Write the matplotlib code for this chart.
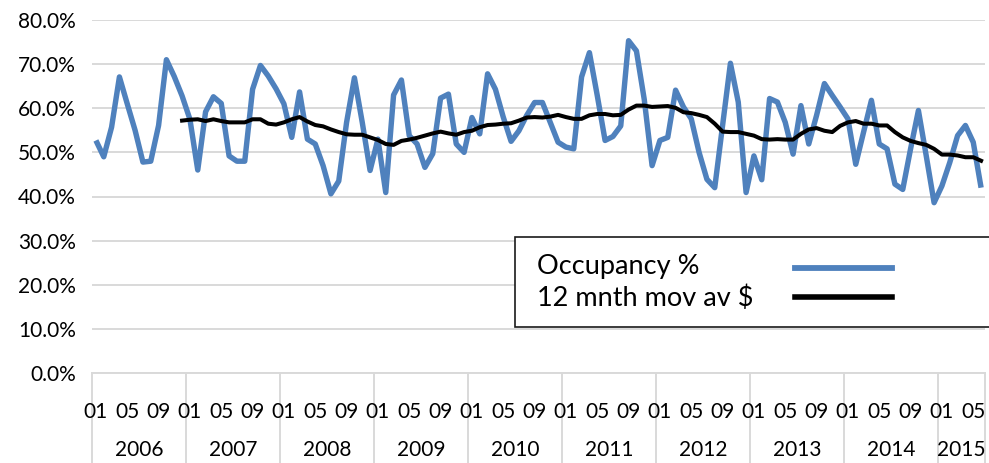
import numpy as np
import matplotlib
matplotlib.use('Agg')
import matplotlib.pyplot as plt
from matplotlib.lines import Line2D
from matplotlib.patches import Rectangle
from matplotlib.ticker import FuncFormatter
import matplotlib.transforms as mtransforms

plt.rcParams['font.family'] = ['Lato', 'DejaVu Sans']

years = ['2006', '2007', '2008', '2009', '2010', '2011', '2012', '2013', '2014', '2015']
months_in_year = [12, 12, 12, 12, 12, 12, 12, 12, 12, 6]
month_tick_labels = ['01', '05', '09']

occupancy = [
    52.7, 49.0, 55.7, 67.1, 61.0, 55.0, 47.8, 48.0, 56.1, 71.0, 67.2, 62.8,   # 2006
    57.5, 46.0, 59.2, 62.6, 61.1, 49.2, 48.0, 48.0, 64.3, 69.7, 67.3, 64.4,   # 2007
    61.0, 53.4, 63.7, 53.0, 51.9, 47.0, 40.6, 43.5, 56.8, 66.9, 56.8, 45.9,   # 2008
    53.0, 40.9, 63.0, 66.4, 53.8, 51.9, 46.6, 49.7, 62.3, 63.2, 51.9, 50.0,   # 2009
    57.9, 54.2, 67.8, 64.3, 58.0, 52.5, 54.9, 58.4, 61.3, 61.3, 56.8, 52.3,   # 2010
    51.2, 50.8, 67.1, 72.6, 62.9, 52.7, 53.6, 56.0, 75.3, 73.0, 62.0, 47.0,   # 2011
    52.7, 53.4, 64.1, 60.3, 57.6, 50.0, 43.9, 42.0, 56.1, 70.2, 61.4, 40.9,   # 2012
    49.2, 43.8, 62.2, 61.4, 56.8, 49.6, 60.6, 51.9, 58.4, 65.6, 62.9, 60.3,   # 2013
    57.6, 47.3, 54.6, 61.8, 51.9, 50.8, 42.8, 41.6, 50.8, 59.5, 49.2, 38.6,   # 2014
    42.4, 47.7, 53.8, 56.1, 52.3, 42.0,                                       # 2015
]

# 12 month moving average, first value at Dec 2006
moving_avg = [
    57.2,                                                                     # 2006
    57.4, 57.5, 57.1, 57.5, 57.1, 56.8, 56.8, 56.8, 57.5, 57.5, 56.5, 56.3,   # 2007
    56.8, 57.5, 58.0, 57.0, 56.2, 55.9, 55.2, 54.6, 54.1, 54.0, 54.0, 53.4,   # 2008
    52.8, 51.9, 51.7, 52.6, 52.9, 53.3, 53.8, 54.3, 54.7, 54.3, 54.0, 54.6,   # 2009
    54.9, 55.7, 56.2, 56.3, 56.5, 56.6, 57.2, 57.9, 58.0, 57.9, 58.1, 58.5,   # 2010
    58.0, 57.6, 57.6, 58.4, 58.7, 58.7, 58.4, 58.5, 59.7, 60.6, 60.6, 60.3,   # 2011
    60.4, 60.5, 60.1, 59.1, 58.9, 58.5, 58.0, 56.5, 54.7, 54.6, 54.6, 54.2,   # 2012
    53.8, 53.0, 52.9, 53.0, 52.9, 52.9, 54.2, 55.2, 55.5, 54.9, 54.6, 56.0,   # 2013
    56.8, 57.1, 56.5, 56.5, 56.1, 56.1, 54.6, 53.4, 52.6, 52.1, 51.7, 50.8,   # 2014
    49.5, 49.5, 49.3, 48.9, 48.9, 48.1,                                       # 2015
]

legend_labels = ['Occupancy %', '12 mnth mov av $']

W, H = 989, 463
fig = plt.figure(figsize=(W / 100, H / 100), dpi=100)


def fx(px):
    return px / W


def fy(py):
    return 1 - py / H


ax = fig.add_axes([fx(92), fy(373), fx(985) - fx(92), fy(20) - fy(373)])

n = len(occupancy)
x = np.arange(n)
occ = np.array(occupancy) / 100
ma = np.array(moving_avg) / 100
xm = np.arange(n - len(ma), n)

blue = '#4f81bd'
ax.plot(x, occ, color=blue, lw=3.9, solid_joinstyle='round', solid_capstyle='butt', zorder=3)
ax.plot(xm, ma, color='black', lw=2.9, solid_joinstyle='round', zorder=4)

ax.set_xlim(-0.5, n - 0.5)
ax.set_ylim(0, 0.8)
ax.set_yticks(np.arange(0, 0.801, 0.1))
ax.yaxis.set_major_formatter(FuncFormatter(lambda v, p: f'{v * 100:.1f}%'))
ax.grid(axis='y', color='#d9d9d9', lw=1.4)
ax.set_axisbelow(True)
for s in ['top', 'right', 'left']:
    ax.spines[s].set_visible(False)
ax.spines['bottom'].set_color('#d9d9d9')
ax.spines['bottom'].set_linewidth(1.4)
ax.tick_params(axis='y', length=0, pad=11.5, labelsize=15, labelcolor='black')
ax.set_xticks([])

# category labels (months and years)
trans = mtransforms.blended_transform_factory(ax.transData, ax.transAxes)
start = 0
bounds = [-0.5]
for yr, m in zip(years, months_in_year):
    for k in range(0, m, 4):
        ax.text(start + k, -0.1275, month_tick_labels[k // 4], transform=trans,
                ha='center', va='baseline', fontsize=15, clip_on=False)
    ax.text(start + (m - 1) / 2, -0.236, yr, transform=trans,
            ha='center', va='baseline', fontsize=15, clip_on=False)
    start += m
    bounds.append(start - 0.5)
for b in bounds:
    ax.plot([b, b], [0, -0.27], transform=trans, color='#d9d9d9', lw=1.4, clip_on=False)

# legend box
rect = Rectangle((fx(515), fy(327)), fx(995) - fx(515), fy(237) - fy(327),
                 transform=fig.transFigure, facecolor='white', edgecolor='#1a1a1a', lw=1.2)
fig.add_artist(rect)
fig.text(fx(537), fy(274), legend_labels[0], fontsize=19.5, va='baseline', ha='left')
fig.text(fx(537), fy(306), legend_labels[1], fontsize=19.5, va='baseline', ha='left')
fig.add_artist(Line2D([fx(795), fx(892)], [fy(267.5), fy(267.5)], color=blue, lw=4.2,
                      transform=fig.transFigure))
fig.add_artist(Line2D([fx(795), fx(892)], [fy(297), fy(297)], color='black', lw=4.0,
                      transform=fig.transFigure))

fig.savefig('out.png', dpi=100)
